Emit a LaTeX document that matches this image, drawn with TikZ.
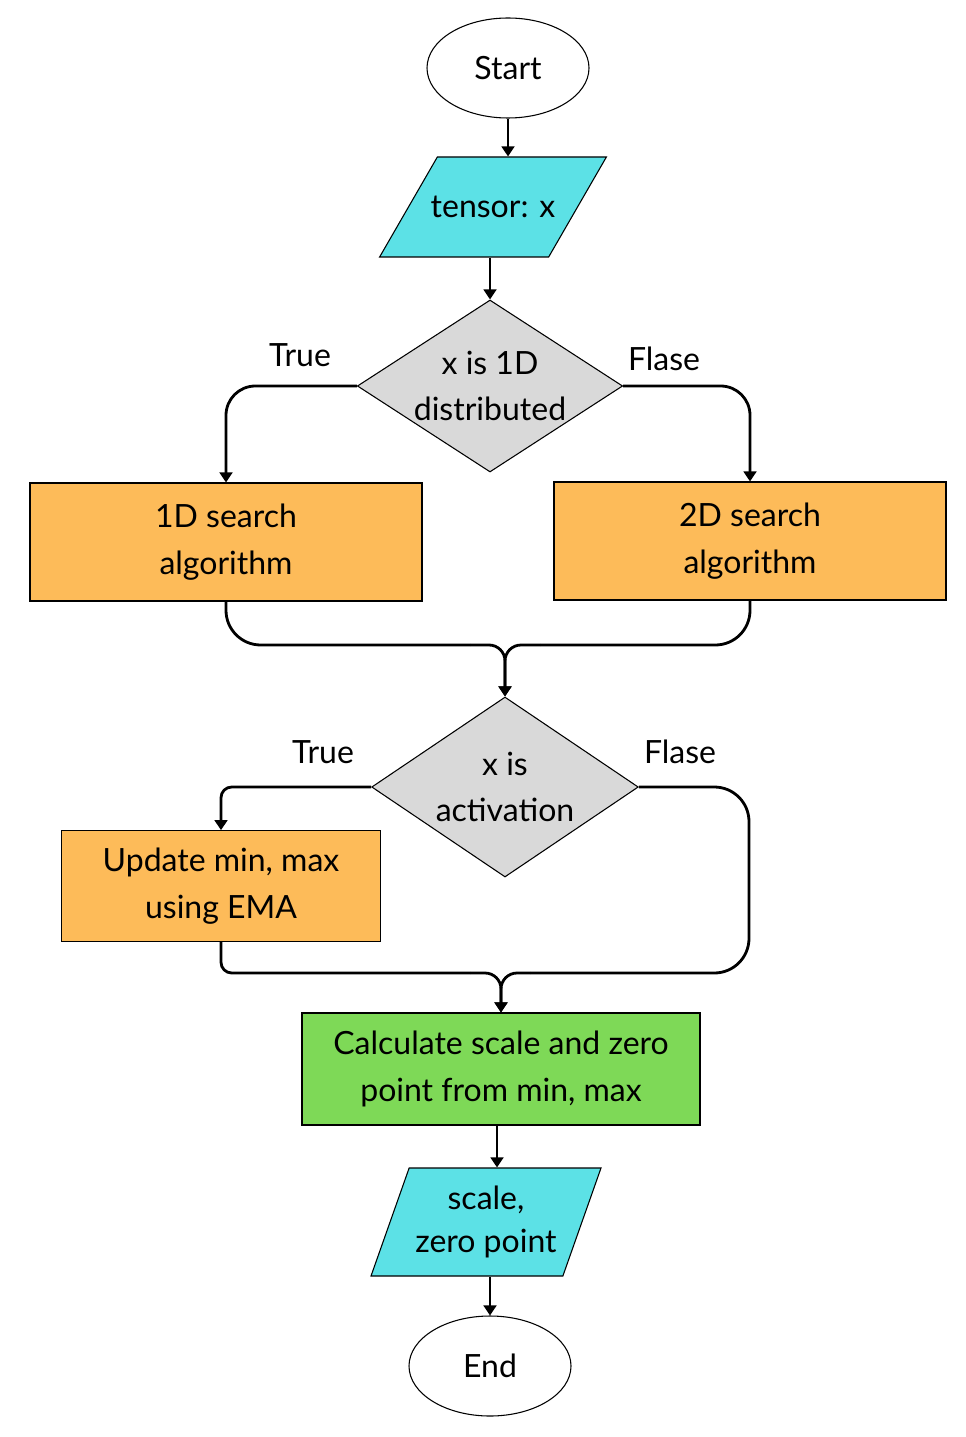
\documentclass[tikz,border=0pt]{standalone}
\usepackage{fontspec}
\setmainfont{Lato}
\usepackage{xcolor}
\definecolor{iocyan}{RGB}{92, 225, 230}
\definecolor{steporange}{RGB}{253, 187, 89}
\definecolor{calcgreen}{RGB}{126, 217, 87}
\definecolor{decgrey}{RGB}{217, 217, 217}
\usepackage{tikz}
\usetikzlibrary{shapes.geometric, arrows.meta}
\tikzstyle{terminal} = [shape=ellipse, draw, line width=0.8pt, fill=white, minimum width=121.5pt, minimum height=75pt, inner sep=0pt]
\tikzstyle{io} = [shape=trapezium, trapezium stretches body=true, draw, line width=0.8pt, fill=iocyan, align=center, inner sep=0pt]
\tikzstyle{decision} = [shape=diamond, draw, line width=0.8pt, fill=decgrey, align=center, inner sep=0pt, aspect=1.55]
\tikzstyle{stepbox} = [shape=rectangle, draw, line width=0.8pt, fill=steporange, align=center]
\tikzstyle{flow} = [line width=2.1pt]
\tikzstyle{arrow} = [flow, -{Triangle[length=7.5pt, width=9.5pt]}]

\begin{document}
\begin{tikzpicture}[
    x=0.75pt, y=-0.75pt,
    font=\fontsize{24}{35}\selectfont
]
  \useasboundingbox (0,0) rectangle (965,1437);
  % nodes
  \node[terminal] (start) at (508,68) {Start};
  \node[io, trapezium left angle=60, trapezium right angle=120, text height=18pt, text depth=2pt, inner ysep=27.5pt, inner xsep=-5pt, minimum width=170pt] (tensor) at (493,207) {tensor: x};
  \node[decision, minimum width=199pt, minimum height=129pt] (isdist) at (490,386) {x is 1D\\distributed};
  \node[stepbox, minimum width=294pt, minimum height=88.5pt] (search1) at (226,542) {1D search\\algorithm};
  \node[stepbox, minimum width=294pt, minimum height=88.5pt] (search2) at (750,541) {2D search\\algorithm};
  \node[decision, minimum width=200pt, minimum height=135pt] (isact) at (505,787) {x is\\activation};
  \node[stepbox, minimum width=239pt, minimum height=83pt] (ema) at (221,886) {Update min, max\\using EMA};
  \node[stepbox, fill=calcgreen, minimum width=298.5pt, minimum height=84pt] (calc) at (501,1069) {Calculate scale and zero\\point from min, max};
  \node[io, trapezium left angle=62, trapezium right angle=118, minimum width=172.5pt, minimum height=81pt, font=\fontsize{24}{32}\selectfont] (scale) at (486,1222) {scale,\\zero point};
  \node[terminal] (end) at (490,1366) {End};
  % labels
  \node (true1) at (300,355) {True};
  \node (false1) at (664,359) {Flase};
  \node (true2) at (323,752) {True};
  \node (false2) at (680,752) {Flase};
  % merge points
  \coordinate (jl1) at (470,645);
  \coordinate (jr1) at (540,645);
  \coordinate (jl2) at (470,973);
  \coordinate (jr2) at (530,973);
  \coordinate (rside) at (749,973);
  % connectors
  \draw[arrow] (start.south) -- (start.south |- tensor.north);
  \draw[arrow] (tensor.south -| isdist.north) -- (isdist.north);
  \draw[arrow, rounded corners=22pt] (isdist.west) -| (search1.north);
  \draw[arrow, rounded corners=22pt] (isdist.east) -| (search2.north);
  \draw[flow, rounded corners=26pt] (search1.south) |- (jl1);
  \draw[flow, rounded corners=26pt] (search2.south) |- (jr1);
  \draw[arrow, rounded corners=12pt] (jl1) -| (isact.north);
  \draw[arrow, rounded corners=12pt] (jr1) -| (isact.north);
  \draw[arrow, rounded corners=8pt] (isact.west) -| (ema.north);
  \draw[flow, rounded corners=26pt] (isact.east) -| (rside) -- (jr2);
  \draw[flow, rounded corners=8pt] (ema.south) |- (jl2);
  \draw[arrow, rounded corners=12pt] (jl2) -| (calc.north);
  \draw[arrow, rounded corners=12pt] (jr2) -| (calc.north);
  \draw[arrow] ([xshift=-3pt]calc.south) -- ([xshift=-3pt]calc.south |- scale.north);
  \draw[arrow] (scale.south -| end.north) -- (end.north);
\end{tikzpicture}
\end{document}
